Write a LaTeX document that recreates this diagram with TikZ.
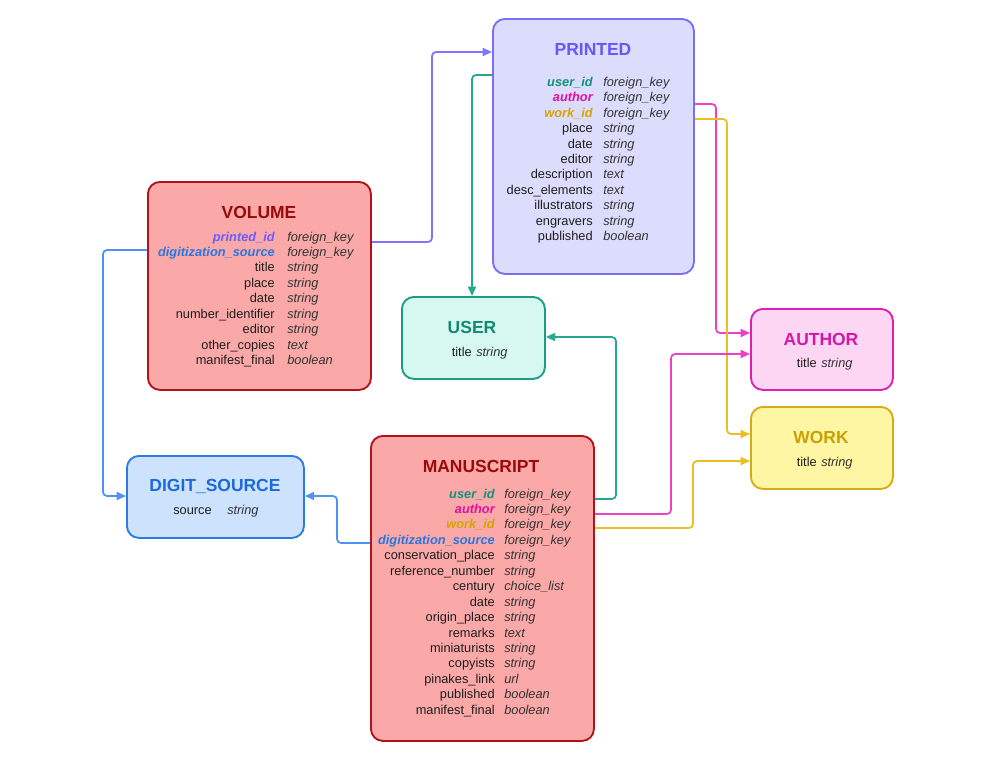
\documentclass[tikz,border=0pt]{standalone}
\usepackage{fontspec}
\setmainfont{Liberation Sans}
\usetikzlibrary{arrows.meta}
\newlength\px \setlength\px{0.75pt}
\definecolor{pFill}{HTML}{DCDCFC}\definecolor{pBord}{HTML}{7A6EF5}\definecolor{pTtl}{HTML}{6658F5}
\definecolor{rFill}{HTML}{FAA8A8}\definecolor{rBord}{HTML}{B0141A}\definecolor{rTtl}{HTML}{9A0A0A}
\definecolor{uFill}{HTML}{D6F8F0}\definecolor{uBord}{HTML}{1E9B84}\definecolor{uTtl}{HTML}{138A70}
\definecolor{aFill}{HTML}{FDD6F4}\definecolor{aBord}{HTML}{E01DB5}\definecolor{aTtl}{HTML}{D317A7}
\definecolor{wFill}{HTML}{FEF6A2}\definecolor{wBord}{HTML}{D7AB12}\definecolor{wTtl}{HTML}{C9A006}
\definecolor{dFill}{HTML}{CDE2FD}\definecolor{dBord}{HTML}{2C7BE5}\definecolor{dTtl}{HTML}{1C6AD8}
\definecolor{nameC}{HTML}{1E1E1E}\definecolor{typeC}{HTML}{333333}
\definecolor{kTeal}{HTML}{13917A}\definecolor{kMag}{HTML}{E010A0}\definecolor{kGold}{HTML}{D4A500}
\definecolor{kViol}{HTML}{6A5CFF}\definecolor{kBlue}{HTML}{2A76E0}
\definecolor{cViol}{HTML}{7F73FF}\definecolor{cBlue}{HTML}{4D94F2}\definecolor{cTeal}{HTML}{26A88F}
\definecolor{cMag}{HTML}{EE40C4}\definecolor{cGold}{HTML}{EBBE25}
\tikzset{
  box/.style={draw, rounded corners=9pt, line width=1.4pt, anchor=north west, inner sep=0pt},
  ttl/.style={font=\fontsize{13.1}{15}\selectfont\bfseries, inner sep=0pt, anchor=center},
  nm/.style={font=\fontsize{9.6}{11.6}\selectfont, text=nameC, inner sep=0pt, anchor=mid east},
  ty/.style={font=\fontsize{9.6}{11.6}\selectfont\itshape, text=typeC, inner sep=0pt, anchor=mid west},
  plain/.style={},
  key/.style={font=\fontsize{9.6}{11.6}\selectfont\bfseries\itshape},
  kteal/.style={key, text=kTeal}, kmag/.style={key, text=kMag}, kgold/.style={key, text=kGold},
  kviol/.style={key, text=kViol}, kblue/.style={key, text=kBlue},
  conn/.style={line width=1.3pt, rounded corners=3pt, -{Triangle[length=7pt,width=6pt]}}
}
\begin{document}
\begin{tikzpicture}[x=0.75pt, y=-0.75pt]
\path[fill=white, use as bounding box] (0,0) rectangle (1001,760);

% boxes
\node[box, draw=pBord, fill=pFill, minimum width=201\px, minimum height=255\px] (printed) at (492,18) {};
\node[box, draw=rBord, fill=rFill, minimum width=223\px, minimum height=208\px] (volume) at (147,181) {};
\node[box, draw=uBord, fill=uFill, minimum width=143\px, minimum height=82\px] (user) at (401,296) {};
\node[box, draw=aBord, fill=aFill, minimum width=142\px, minimum height=81\px] (author) at (750,308) {};
\node[box, draw=wBord, fill=wFill, minimum width=142\px, minimum height=82\px] (work) at (750,406) {};
\node[box, draw=dBord, fill=dFill, minimum width=177\px, minimum height=82\px] (digit) at (126,455) {};
\node[box, draw=rBord, fill=rFill, minimum width=223\px, minimum height=305\px] (manuscript) at (370,435) {};

% titles
\node[ttl, text=pTtl] (printedT) at (593,49.5) {PRINTED};
\node[ttl, text=rTtl] (volumeT) at (259,212) {VOLUME};
\node[ttl, text=uTtl] (userT) at (472,327) {USER};
\node[ttl, text=aTtl] (authorT) at (821,339) {AUTHOR};
\node[ttl, text=wTtl] (workT) at (821,437) {WORK};
\node[ttl, text=dTtl] (digitT) at (215,486) {DIGIT\_SOURCE};
\node[ttl, text=rTtl] (manuscriptT) at (481,466) {MANUSCRIPT};

% PRINTED rows
\foreach \n/\t/\s [count=\i] in {user\_id/foreign\_key/kteal, author/foreign\_key/kmag, work\_id/foreign\_key/kgold,
  place/string/plain, date/string/plain, editor/string/plain, description/text/plain, desc\_elements/text/plain,
  illustrators/string/plain, engravers/string/plain, published/boolean/plain}{
  \node[nm, \s] (pn\i) at (593, {83+15.4*(\i-1)}) {\n};
  \node[ty] (pt\i) at (603, {83+15.4*(\i-1)}) {\t};
}
% VOLUME rows
\foreach \n/\t/\s [count=\i] in {printed\_id/foreign\_key/kviol, digitization\_source/foreign\_key/kblue,
  title/string/plain, place/string/plain, date/string/plain, number\_identifier/string/plain,
  editor/string/plain, other\_copies/text/plain, manifest\_final/boolean/plain}{
  \node[nm, \s] (vn\i) at (275, {237.5+15.45*(\i-1)}) {\n};
  \node[ty] (vt\i) at (287, {237.5+15.45*(\i-1)}) {\t};
}
% MANUSCRIPT rows
\foreach \n/\t/\s [count=\i] in {user\_id/foreign\_key/kteal, author/foreign\_key/kmag, work\_id/foreign\_key/kgold,
  digitization\_source/foreign\_key/kblue, conservation\_place/string/plain, reference\_number/string/plain,
  century/choice\_list/plain, date/string/plain, origin\_place/string/plain, remarks/text/plain,
  miniaturists/string/plain, copyists/string/plain, pinakes\_link/url/plain, published/boolean/plain,
  manifest\_final/boolean/plain}{
  \node[nm, \s] (mn\i) at (495, {494.5+15.45*(\i-1)}) {\n};
  \node[ty] (mt\i) at (504, {494.5+15.45*(\i-1)}) {\t};
}
% small boxes rows
\node[nm] (un1) at (472,353) {title};
\node[ty] (ut1) at (476,353) {string};
\node[nm] (an1) at (817,364) {title};
\node[ty] (at1) at (821,364) {string};
\node[nm] (wn1) at (817,463) {title};
\node[ty] (wt1) at (821,463) {string};
\node[nm] (dn1) at (212,511) {source};
\node[ty] (dt1) at (227,511) {string};

% bend coordinates
\coordinate (c1a) at (432,242); \coordinate (c1b) at (432,52);
\coordinate (c2a) at (103,250); \coordinate (c2b) at (103,496);
\coordinate (c3a) at (472,75);
\coordinate (c4a) at (716,104); \coordinate (c4b) at (716,333);
\coordinate (c5a) at (727,119); \coordinate (c5b) at (727,434);
\coordinate (c6a) at (616,499); \coordinate (c6b) at (616,337);
\coordinate (c7a) at (671,514); \coordinate (c7b) at (671,354);
\coordinate (c8a) at (693,528); \coordinate (c8b) at (693,461);
\coordinate (c9a) at (337,543); \coordinate (c9b) at (337,496);

% connectors
\draw[conn, cViol] (volume.east |- c1a) -- (c1a) -- (c1b) -- (printed.west |- c1b);
\draw[conn, cBlue] (volume.west |- c2a) -- (c2a) -- (c2b) -- (digit.west |- c2b);
\draw[conn, cTeal] (printed.west |- c3a) -- (c3a) -- (user.north -| c3a);
\draw[conn, cMag] (printed.east |- c4a) -- (c4a) -- (c4b) -- (author.west |- c4b);
\draw[conn, cGold] (printed.east |- c5a) -- (c5a) -- (c5b) -- (work.west |- c5b);
\draw[conn, cTeal] (manuscript.east |- c6a) -- (c6a) -- (c6b) -- (user.east |- c6b);
\draw[conn, cMag] (manuscript.east |- c7a) -- (c7a) -- (c7b) -- (author.west |- c7b);
\draw[conn, cGold] (manuscript.east |- c8a) -- (c8a) -- (c8b) -- (work.west |- c8b);
\draw[conn, cBlue] (manuscript.west |- c9a) -- (c9a) -- (c9b) -- (digit.east |- c9b);
\end{tikzpicture}
\end{document}
